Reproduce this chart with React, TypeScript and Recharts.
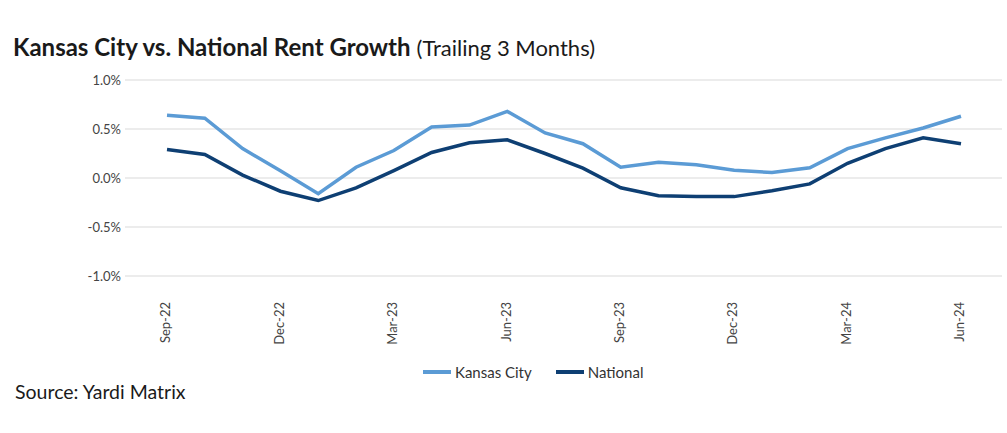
import React from "react";
import { LineChart, Line, XAxis, YAxis, CartesianGrid } from "recharts";

const months = [
  "Sep-22", "Oct-22", "Nov-22", "Dec-22", "Jan-23", "Feb-23", "Mar-23", "Apr-23",
  "May-23", "Jun-23", "Jul-23", "Aug-23", "Sep-23", "Oct-23", "Nov-23", "Dec-23",
  "Jan-24", "Feb-24", "Mar-24", "Apr-24", "May-24", "Jun-24",
];

const kansasCity = [
  0.64, 0.61, 0.3, 0.075, -0.16, 0.11, 0.28, 0.52, 0.54, 0.68, 0.46, 0.35,
  0.11, 0.16, 0.135, 0.08, 0.055, 0.105, 0.3, 0.41, 0.51, 0.63,
];

const national = [
  0.29, 0.24, 0.03, -0.135, -0.23, -0.1, 0.075, 0.26, 0.36, 0.39, 0.25, 0.1,
  -0.1, -0.18, -0.19, -0.19, -0.13, -0.06, 0.15, 0.3, 0.41, 0.35,
];

const yTicks = [-1, -0.5, 0, 0.5, 1];

const KC_COLOR = "#5b9bd5";
const NAT_COLOR = "#0e3f73";
const FONT = "Lato, 'Open Sans', sans-serif";

const data = months.map((m, i) => ({
  month: m,
  kansasCity: kansasCity[i],
  national: national[i],
}));

const MonthTick = ({ x, y, payload }: any) => (
  <text
    x={x}
    y={y + 26}
    transform={`rotate(-90, ${x}, ${y + 26})`}
    textAnchor="end"
    dominantBaseline="middle"
    fill="#444"
    fontSize={13}
    fontFamily={FONT}
  >
    {payload.value}
  </text>
);

const legendItems = [
  { label: "Kansas City", color: KC_COLOR },
  { label: "National", color: NAT_COLOR },
];

export default function App() {
  return (
    <div
      style={{
        position: "absolute",
        left: 0,
        top: 0,
        width: 1007,
        height: 433,
        background: "#fff",
        fontFamily: FONT,
        color: "#1a1a1a",
      }}
    >
      <div
        style={{
          position: "absolute",
          left: 13,
          top: 32,
          whiteSpace: "nowrap",
          lineHeight: "30px",
        }}
      >
        <span style={{ fontWeight: 700, fontSize: 24 }}>
          Kansas City vs. National Rent Growth
        </span>
        <span style={{ fontWeight: 400, fontSize: 22, marginLeft: 6 }}>
          (Trailing 3 Months)
        </span>
      </div>

      <div style={{ position: "absolute", left: 0, top: 0 }}>
        <LineChart
          width={1007}
          height={433}
          data={data}
          margin={{ top: 80, right: 5, bottom: 0, left: 0 }}
        >
          <CartesianGrid
            vertical={false}
            stroke="#e6e6e6"
            strokeWidth={1.5}
          />
          <XAxis
            dataKey="month"
            interval={2}
            height={157}
            tick={<MonthTick />}
            tickLine={false}
            axisLine={false}
            tickSize={0}
            tickMargin={0}
            padding={{ left: 42, right: 41 }}
          />
          <YAxis
            width={125}
            domain={[-1, 1]}
            ticks={yTicks}
            tickFormatter={(v: number) => `${v.toFixed(1)}%`}
            tick={{ fill: "#444", fontSize: 13, fontFamily: FONT }}
            tickLine={false}
            axisLine={false}
            tickSize={0}
            tickMargin={4}
          />
          <Line
            type="linear"
            dataKey="kansasCity"
            stroke={KC_COLOR}
            strokeWidth={3.5}
            dot={false}
            isAnimationActive={false}
          />
          <Line
            type="linear"
            dataKey="national"
            stroke={NAT_COLOR}
            strokeWidth={3.5}
            dot={false}
            isAnimationActive={false}
          />
        </LineChart>
      </div>

      <div
        style={{
          position: "absolute",
          left: 423,
          top: 363,
          display: "flex",
          alignItems: "center",
          gap: 24,
          fontSize: 15,
          color: "#333",
          whiteSpace: "nowrap",
        }}
      >
        {legendItems.map((it) => (
          <div key={it.label} style={{ display: "flex", alignItems: "center", gap: 4 }}>
            <div style={{ width: 28, height: 4, background: it.color }} />
            <span>{it.label}</span>
          </div>
        ))}
      </div>

      <div
        style={{
          position: "absolute",
          left: 15,
          top: 380,
          fontSize: 19.5,
          color: "#1a1a1a",
          whiteSpace: "nowrap",
        }}
      >
        Source: Yardi Matrix
      </div>
    </div>
  );
}
